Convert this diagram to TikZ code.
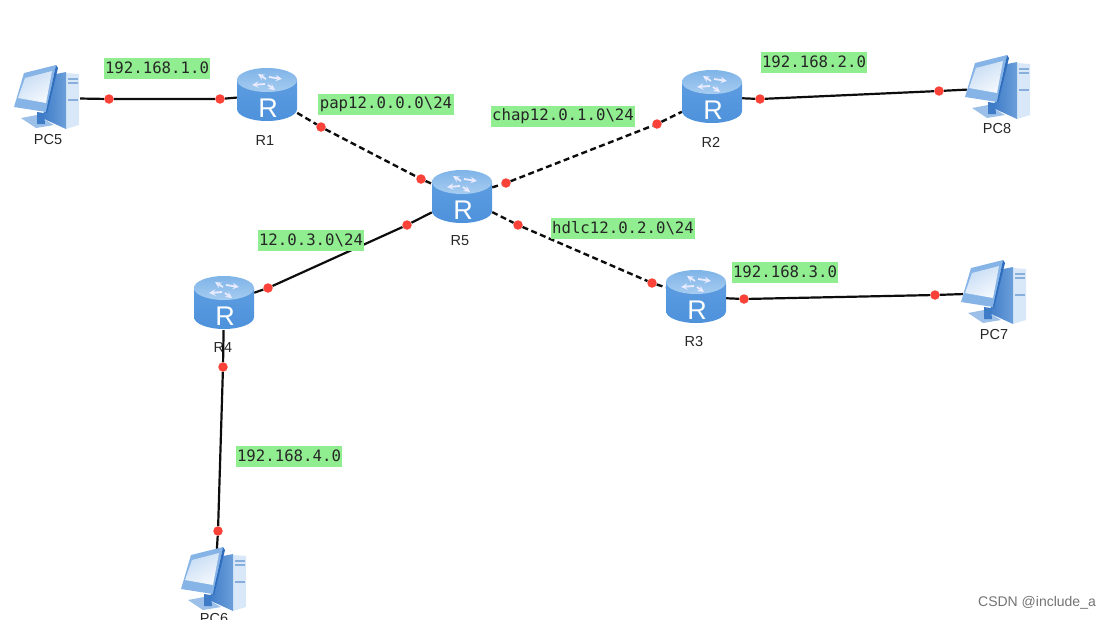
\documentclass[tikz,border=0pt]{standalone}
\usepackage{fontspec}
\setmainfont{Liberation Sans}
\newfontfamily\labelfont{DejaVu Sans Mono}
\definecolor{linkred}{HTML}{FA4238}
\definecolor{labelgreen}{HTML}{90EE90}
\definecolor{bodyedge}{HTML}{5C9CE0}
\definecolor{bodymid}{HTML}{8EC2F0}
\definecolor{bodyright}{HTML}{4E92DC}
\definecolor{toplight}{HTML}{A6CCF0}
\definecolor{topdark}{HTML}{7FB4E8}
\definecolor{towerfront}{HTML}{D8E8F8}
\definecolor{towerline}{HTML}{88AEDC}
\definecolor{towerside}{HTML}{6C9FDA}
\definecolor{framefill}{HTML}{86B4E6}
\definecolor{framedark}{HTML}{2F6EBE}
\definecolor{basefill}{HTML}{9CC0E8}
\definecolor{standfill}{HTML}{3F7CC8}
\definecolor{screenlight}{HTML}{F4F8FD}
\definecolor{screendark}{HTML}{C6DCF4}
\tikzset{
    devbox/.style={minimum width=60pt, minimum height=54pt, inner sep=0pt},
    pcbox/.style={minimum width=64pt, minimum height=58pt, inner sep=0pt},
    devname/.style={font=\fontsize{14.5}{16}\selectfont, text=black!85},
    netlabel/.style={fill=labelgreen, font=\labelfont\fontsize{15.7}{17}\selectfont, minimum height=21pt, inner xsep=1.5pt, inner ysep=0pt, text=black!85},
    reddot/.style={circle, fill=linkred, minimum size=9.5pt, inner sep=0pt},
    link/.style={line width=2.2pt, black!95},
    linkdash/.style={link, line width=2.4pt, dash pattern=on 6pt off 3.5pt},
    pinarrow/.style={->, >=stealth, white!92!blue, line width=1.8pt},
    routerpic/.pic={
        \shade[left color=bodyedge, middle color=bodymid, right color=bodyright, shading angle=0]
            (-30,-15) -- (-30,14) arc[start angle=180, end angle=0, x radius=30, y radius=12] -- (30,-15) -- cycle;
        \shade[top color=topdark, bottom color=toplight] (0,-15) ellipse[x radius=30, y radius=12];
        \draw[pinarrow] (-1,-16) -- (-9,-21);
        \draw[pinarrow] (2,-18) -- (15,-16);
        \draw[pinarrow] (1,-10) -- (8,-5);
        \draw[pinarrow] (-2,-11) -- (-15,-10);
        \node[font=\fontsize{27}{27}\selectfont, text=white, inner sep=0pt] (-letter) at (1,13) {R};
    },
    pcpic/.pic={
        % tower, stand, monitor
        \fill[towerfront] (18,-25) -- (31,-24) -- (31,27) -- (18,31) -- cycle;
        \shade[left color=standfill, right color=towerside] (8,-24) -- (18,-26) -- (18,31) -- (-6,20) -- cycle;
        \draw[towerline, line width=1.2pt] (20,-19) -- (30,-19) (20,-15) -- (30,-15) (20,2) -- (30,2);
        \fill[basefill] (-27,20) -- (-11,17) -- (6,27) -- (-12,30) -- cycle;
        \fill[standfill] (-11,14) -- (-4,15) -- (-3,26) -- (-11,26) -- cycle;
        \fill[framefill] (-24,-25) -- (8,-33) -- (-2,14) -- (-34,9) -- cycle;
        \fill[framedark] (8,-33) -- (10,-30) -- (-1,15) -- (-2,14) -- cycle;
        \shade[top color=screendark, bottom color=screenlight, shading angle=30] (-23,-20) -- (4,-27) -- (-2,5) -- (-30,0) -- cycle;
    }
}
\begin{document}
\begin{tikzpicture}[x=1pt, y=-1pt]
    \useasboundingbox (0,0) rectangle (1111,619);
    \clip (0,0) rectangle (1111,619);
    % devices
    \foreach \nm/\x/\y in {R1/267/95, R2/712/97, R3/696/297, R4/224/303, R5/462/197}
        \node[devbox] (\nm) at (\x,\y) {};
    \foreach \nm/\x/\y in {PC5/48/98, PC6/215/580, PC7/995/293, PC8/999/88}
        \node[pcbox] (\nm) at (\x,\y) {};
    % names
    \foreach \nm/\x/\y in {R1/265/141, R2/711/142, R3/694/342, R4/223/348, R5/460/241, PC5/48/140, PC6/214/618, PC7/994/335, PC8/997/129}
        \node[devname] (name\nm) at (\x,\y) {\nm};
    % dots on the links
    \foreach \nm/\x/\y in {a/109/99, b/220/99, c/321/127, d/421/179, e/506/183, f/657/124, g/518/225, h/652/283, i/407/225, j/268/288, k/223/367, l/218/531, m/760/99, n/939/91, o/744/299, p/935/295}
        \node[reddot] (dot\nm) at (\x,\y) {};
    % links
    \draw[link] (PC5) -- (dota) -- (dotb) -- (R1);
    \draw[linkdash] (R1) -- (dotc) -- (dotd) -- (R5);
    \draw[linkdash] (R5) -- (dote) -- (dotf) -- (R2);
    \draw[linkdash] (R5) -- (dotg) -- (doth) -- (R3);
    \draw[link] (R5) -- (doti) -- (dotj) -- (R4);
    \draw[link] (R4) -- (dotk) -- (dotl) -- (PC6);
    \draw[link] (R2) -- (dotm) -- (dotn) -- (PC8);
    \draw[link] (R3) -- (doto) -- (dotp) -- (PC7);
    % icons over the link ends
    \foreach \nm/\x/\y in {R1/267/95, R2/712/97, R3/696/297, R4/224/303, R5/462/197}
        \pic (icon\nm) at (\x,\y) {routerpic};
    \foreach \nm/\x/\y in {PC5/48/98, PC6/215/580, PC7/995/293, PC8/999/88}
        \pic at (\x,\y) {pcpic};
    % labels
    \node[netlabel] (netA) at (157,68) {192.168.1.0};
    \node[netlabel] (netB) at (814,62) {192.168.2.0};
    \node[netlabel] (netC) at (785,272) {192.168.3.0};
    \node[netlabel] (netD) at (289,456) {192.168.4.0};
    \node[netlabel] (netE) at (386,104) {pap12.0.0.0\textbackslash24};
    \node[netlabel] (netF) at (563,116) {chap12.0.1.0\textbackslash24};
    \node[netlabel] (netG) at (623,228) {hdlc12.0.2.0\textbackslash24};
    \node[netlabel] (netH) at (311,240) {12.0.3.0\textbackslash24};
    \node[font=\fontsize{14}{16}\selectfont, text=black!55] (mark) at (1037,603) {CSDN @include\_a};
\end{tikzpicture}
\end{document}
